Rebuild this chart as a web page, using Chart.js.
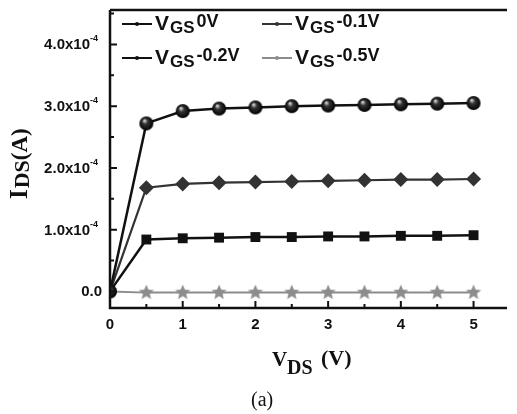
<!DOCTYPE html>
<html>
<head>
<meta charset="utf-8">
<script src="https://cdn.jsdelivr.net/npm/chart.js@4/dist/chart.umd.min.js"></script>
<style>
  html, body { margin: 0; padding: 0; background: #fff; overflow: hidden; }
  #wrap { width: 517px; height: 414px; }
</style>
</head>
<body>
<div id="wrap"><canvas id="ivChart" width="517" height="414"></canvas></div>
<script>
// V_DS sweep (V)
const vds = [0, 0.5, 1, 1.5, 2, 2.5, 3, 3.5, 4, 4.5, 5];
// I_DS (A) for each gate bias
const ids0V = [0, 2.72e-4, 2.92e-4, 2.96e-4, 2.98e-4, 3.00e-4, 3.01e-4, 3.02e-4, 3.03e-4, 3.04e-4, 3.05e-4];
const ids01V = [0, 1.68e-4, 1.74e-4, 1.76e-4, 1.77e-4, 1.78e-4, 1.79e-4, 1.80e-4, 1.81e-4, 1.81e-4, 1.82e-4];
const ids02V = [0, 0.84e-4, 0.86e-4, 0.87e-4, 0.88e-4, 0.88e-4, 0.89e-4, 0.89e-4, 0.90e-4, 0.90e-4, 0.91e-4];
const ids05V = [0, -0.02e-4, -0.02e-4, -0.02e-4, -0.02e-4, -0.02e-4, -0.02e-4, -0.02e-4, -0.02e-4, -0.02e-4, -0.02e-4];
const legendSuffix = ["0V", "-0.1V", "-0.2V", "-0.5V"];
const yTickValues = [0, 1e-4, 2e-4, 3e-4, 4e-4];
const yTickMantissa = ["0.0", "1.0x10", "2.0x10", "3.0x10", "4.0x10"];
const xTickValues = [0, 1, 2, 3, 4, 5];

function toPoints(ys) {
  return vds.map((x, i) => ({ x: x, y: ys[i] }));
}

function makeSphere(r) {
  const c = document.createElement("canvas");
  c.width = c.height = r * 2 + 2;
  const g = c.getContext("2d");
  const grad = g.createRadialGradient(r - 1, r - 2, 0.5, r + 1, r + 1, r);
  grad.addColorStop(0, "#d8d8d8");
  grad.addColorStop(0.35, "#333");
  grad.addColorStop(1, "#000");
  g.fillStyle = grad;
  g.beginPath();
  g.arc(r + 1, r + 1, r, 0, Math.PI * 2);
  g.fill();
  return c;
}

function makeStar(r, color) {
  const c = document.createElement("canvas");
  c.width = c.height = r * 2 + 2;
  const g = c.getContext("2d");
  g.fillStyle = color;
  g.beginPath();
  for (let i = 0; i < 10; i++) {
    const rad = i % 2 === 0 ? r : r * 0.45;
    const a = -Math.PI / 2 + i * Math.PI / 5;
    const px = r + 1 + rad * Math.cos(a);
    const py = r + 1 + rad * Math.sin(a);
    if (i === 0) g.moveTo(px, py); else g.lineTo(px, py);
  }
  g.closePath();
  g.fill();
  return c;
}

const sphere = makeSphere(7);
const star = makeStar(8, "#8c8c8c");

function firstSmall(big, small) {
  return ctx => (ctx.dataIndex === 0 ? small : big);
}

const drawDecor = {
  id: "drawDecor",
  afterDatasetsDraw(chart) {
    const ctx = chart.ctx;
    const a = chart.chartArea;
    const xs = chart.scales.x;
    const ys = chart.scales.y;
    ctx.save();

    // axes frame (left, bottom, top)
    ctx.strokeStyle = "#111";
    ctx.lineWidth = 2.5;
    ctx.beginPath();
    ctx.moveTo(a.left, a.top);
    ctx.lineTo(a.right, a.top);
    ctx.moveTo(a.left, a.top);
    ctx.lineTo(a.left, a.bottom);
    ctx.lineTo(a.right, a.bottom);
    ctx.stroke();

    // inward ticks
    ctx.lineWidth = 2;
    ctx.beginPath();
    for (let v = 0; v <= 4.5; v += 0.5) {
      const py = ys.getPixelForValue(v * 1e-4);
      const len = Number.isInteger(v) ? 7 : 4;
      ctx.moveTo(a.left, py);
      ctx.lineTo(a.left + len, py);
    }
    for (let v = 0.5; v <= 5; v += 0.5) {
      const px = xs.getPixelForValue(v);
      const len = Number.isInteger(v) ? 7 : 4;
      ctx.moveTo(px, a.bottom);
      ctx.lineTo(px, a.bottom - len);
    }
    ctx.stroke();

    // y tick labels
    ctx.fillStyle = "#111";
    ctx.textBaseline = "alphabetic";
    yTickValues.forEach((v, i) => {
      const py = ys.getPixelForValue(v);
      ctx.font = "bold 15px 'Liberation Sans', Arial, sans-serif";
      if (v === 0) {
        ctx.textAlign = "right";
        ctx.fillText(yTickMantissa[i], 102, py + 5);
      } else {
        ctx.textAlign = "right";
        ctx.fillText(yTickMantissa[i], 90, py + 5);
        ctx.textAlign = "left";
        ctx.font = "bold 9px 'Liberation Sans', Arial, sans-serif";
        ctx.fillText("-4", 90, py - 3);
      }
    });

    // x tick labels
    ctx.font = "bold 15px 'Liberation Sans', Arial, sans-serif";
    ctx.textAlign = "center";
    xTickValues.forEach(v => {
      ctx.fillText(String(v), xs.getPixelForValue(v), 329);
    });

    // x axis title: V_DS (V)
    ctx.textAlign = "left";
    ctx.font = "bold 21px 'Liberation Serif', 'Times New Roman', serif";
    ctx.fillText("V", 272, 366);
    ctx.font = "bold 20px 'Liberation Serif', 'Times New Roman', serif";
    ctx.fillText("DS", 287, 374);
    ctx.font = "bold 22px 'Liberation Serif', 'Times New Roman', serif";
    ctx.fillText("(V)", 321, 365);

    // caption
    ctx.font = "20px 'Liberation Serif', 'Times New Roman', serif";
    ctx.fillText("(a)", 251, 406);

    // y axis title: I_DS(A)
    ctx.save();
    ctx.translate(27, 199);
    ctx.rotate(-Math.PI / 2);
    ctx.font = "bold 25px 'Liberation Serif', 'Times New Roman', serif";
    ctx.fillText("I", 0, 0);
    let w = ctx.measureText("I").width;
    ctx.font = "bold 22px 'Liberation Serif', 'Times New Roman', serif";
    ctx.fillText("DS", w + 1, 2);
    w += ctx.measureText("DS").width + 1;
    ctx.font = "bold 23px 'Liberation Serif', 'Times New Roman', serif";
    ctx.fillText("(A)", w, 0);
    ctx.restore();

    // legend
    const slots = [
      { x: 122, y: 24 }, { x: 262, y: 24 },
      { x: 122, y: 58 }, { x: 262, y: 58 }
    ];
    chart.data.datasets.forEach((ds, i) => {
      const s = slots[i];
      ctx.strokeStyle = ds.borderColor;
      ctx.fillStyle = ds.borderColor;
      ctx.lineWidth = 2;
      ctx.beginPath();
      ctx.moveTo(s.x, s.y);
      ctx.lineTo(s.x + 30, s.y);
      ctx.stroke();
      ctx.beginPath();
      ctx.arc(s.x + 15, s.y, 2, 0, Math.PI * 2);
      ctx.fill();

      ctx.fillStyle = "#111";
      let tx = s.x + 33;
      ctx.font = "bold 21px 'Liberation Sans', Arial, sans-serif";
      ctx.fillText("V", tx, s.y + 6);
      tx += ctx.measureText("V").width + 1;
      ctx.font = "bold 17px 'Liberation Sans', Arial, sans-serif";
      ctx.fillText("GS", tx, s.y + 9);
      tx += ctx.measureText("GS").width + 2;
      ctx.font = "bold 18px 'Liberation Sans', Arial, sans-serif";
      ctx.fillText(legendSuffix[i], tx, s.y + 3);
    });

    ctx.restore();
  }
};

new Chart(document.getElementById("ivChart"), {
  type: "line",
  data: {
    datasets: [
      {
        label: "VGS0V",
        data: toPoints(ids0V),
        borderColor: "#111",
        borderWidth: 2.5,
        pointStyle: sphere,
        pointRadius: 7
      },
      {
        label: "VGS-0.1V",
        data: toPoints(ids01V),
        borderColor: "#333",
        borderWidth: 2.2,
        backgroundColor: "#333",
        pointStyle: "rectRot",
        pointRadius: firstSmall(7.5, 2),
        pointBorderWidth: 0
      },
      {
        label: "VGS-0.2V",
        data: toPoints(ids02V),
        borderColor: "#111",
        borderWidth: 2.5,
        backgroundColor: "#111",
        pointStyle: "rect",
        pointRadius: firstSmall(7, 2),
        pointBorderWidth: 0
      },
      {
        label: "VGS-0.5V",
        data: toPoints(ids05V),
        borderColor: "#8c8c8c",
        borderWidth: 2,
        backgroundColor: "#8c8c8c",
        pointStyle: star,
        pointRadius: 8
      }
    ]
  },
  options: {
    responsive: false,
    animation: false,
    layout: { padding: { top: 3, right: 0, left: 0, bottom: 0 } },
    plugins: {
      legend: { display: false },
      tooltip: { enabled: false }
    },
    scales: {
      x: {
        type: "linear",
        min: 0,
        max: 5.46,
        grid: { display: false },
        border: { display: false },
        ticks: { display: false },
        afterFit: scale => { scale.height = 106; }
      },
      y: {
        min: -0.269e-4,
        max: 4.557e-4,
        grid: { display: false },
        border: { display: false },
        ticks: { display: false },
        afterFit: scale => { scale.width = 110; }
      }
    }
  },
  plugins: [drawDecor]
});
</script>
</body>
</html>
